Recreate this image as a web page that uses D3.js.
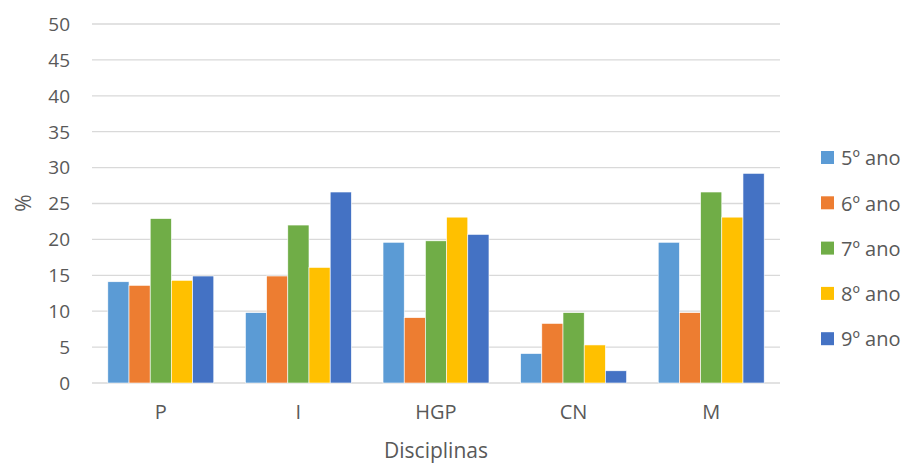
<!DOCTYPE html>
<html>
<head>
<meta charset="utf-8">
<script src="https://cdn.jsdelivr.net/npm/d3@7"></script>
<style>
  body { margin: 0; background: #fff; }
  text { font-family: "Open Sans", Lato, sans-serif; fill: #595959; }
</style>
</head>
<body>
<svg id="chart"></svg>
<script>
// disciplines on the x axis
const disciplinas = ['P', 'I', 'HGP', 'CN', 'M'];
// one series per school year
const anos = ['5º ano', '6º ano', '7º ano', '8º ano', '9º ano'];
const ano5 = [14.1, 9.8, 19.6, 4.1, 19.6];
const ano6 = [13.6, 14.9, 9.1, 8.3, 9.8];
const ano7 = [22.9, 22.0, 19.8, 9.8, 26.6];
const ano8 = [14.3, 16.1, 23.1, 5.3, 23.1];
const ano9 = [14.9, 26.6, 20.7, 1.7, 29.2];
const yTicks = [0, 5, 10, 15, 20, 25, 30, 35, 40, 45, 50];

const series = [ano5, ano6, ano7, ano8, ano9];
const colors = ['#5b9bd5', '#ed7d31', '#70ad47', '#ffc000', '#4472c4'];

const width = 908, height = 465;
const margin = {top: 24, right: 128, bottom: 82, left: 92};

const svg = d3.select('#chart')
    .attr('width', width)
    .attr('height', height);

const x = d3.scaleBand()
    .domain(disciplinas)
    .range([margin.left, width - margin.right])
    .paddingInner(0.23)
    .paddingOuter(0.115);

const x1 = d3.scaleBand()
    .domain(d3.range(anos.length))
    .range([0, x.bandwidth()]);

const y = d3.scaleLinear()
    .domain([0, 50])
    .range([height - margin.bottom, margin.top]);

// gridlines
svg.append('g')
  .selectAll('line')
  .data(yTicks)
  .enter().append('line')
    .attr('x1', margin.left)
    .attr('x2', width - margin.right)
    .attr('y1', d => y(d))
    .attr('y2', d => y(d))
    .attr('stroke', '#d9d9d9')
    .attr('stroke-width', 1.3);

// y tick labels
svg.append('g')
  .selectAll('text')
  .data(yTicks)
  .enter().append('text')
    .attr('x', 70)
    .attr('y', d => y(d))
    .attr('dy', '0.36em')
    .attr('text-anchor', 'end')
    .attr('font-size', 19)
    .text(d => d);

// bars
const group = svg.selectAll('g.grp')
  .data(disciplinas)
  .enter().append('g')
    .attr('class', 'grp')
    .attr('transform', d => 'translate(' + x(d) + ',0)');

group.selectAll('rect')
  .data((d, i) => series.map((s, j) => ({j: j, value: s[i]})))
  .enter().append('rect')
    .attr('x', d => x1(d.j))
    .attr('width', x1.bandwidth())
    .attr('y', d => y(d.value))
    .attr('height', d => y(0) - y(d.value))
    .attr('fill', d => colors[d.j])
    .attr('stroke', '#fff')
    .attr('stroke-width', 0.6);

// x category labels
svg.append('g')
  .selectAll('text')
  .data(disciplinas)
  .enter().append('text')
    .attr('x', d => x(d) + x.bandwidth() / 2)
    .attr('y', 419)
    .attr('text-anchor', 'middle')
    .attr('font-size', 20)
    .text(d => d);

// axis titles
svg.append('text')
    .attr('x', (margin.left + width - margin.right) / 2)
    .attr('y', 458)
    .attr('text-anchor', 'middle')
    .attr('font-size', 21)
    .text('Disciplinas');

svg.append('text')
    .attr('transform', 'translate(31,203) rotate(-90)')
    .attr('text-anchor', 'middle')
    .attr('font-size', 21)
    .text('%');

// legend
const legend = svg.selectAll('g.leg')
  .data(anos)
  .enter().append('g')
    .attr('class', 'leg')
    .attr('transform', (d, i) => 'translate(821,' + (158 + i * 45.3) + ')');

legend.append('rect')
    .attr('x', 0)
    .attr('y', -7)
    .attr('width', 13)
    .attr('height', 13)
    .attr('fill', (d, i) => colors[i]);

legend.append('text')
    .attr('x', 20)
    .attr('dy', '0.36em')
    .attr('font-size', 20)
    .text(d => d);
</script>
</body>
</html>
